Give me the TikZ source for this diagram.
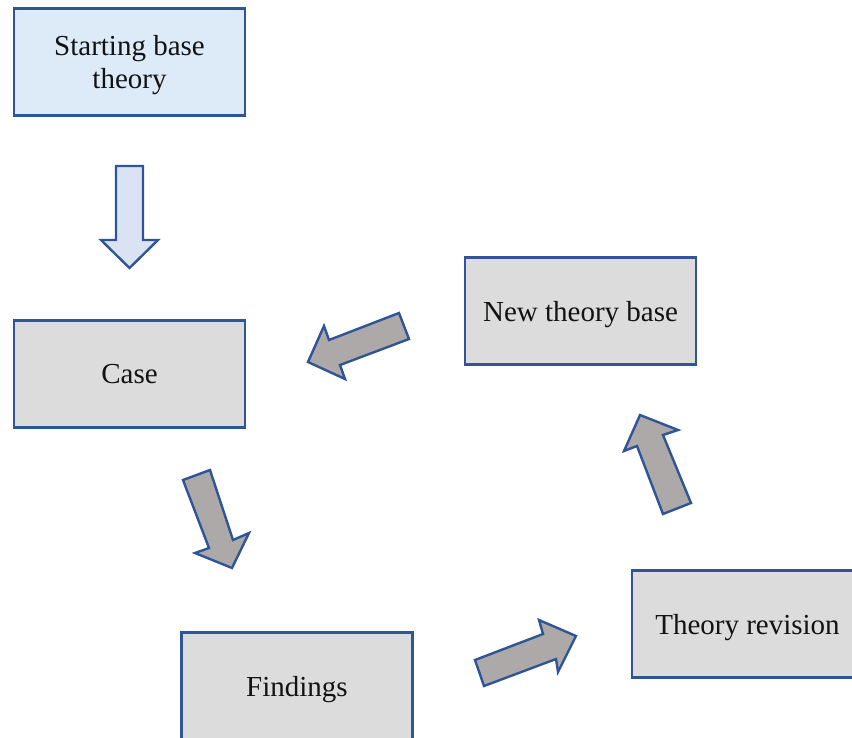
\documentclass[tikz,border=0pt]{standalone}
\usepackage{fontspec}
\setmainfont{Liberation Serif}
\begin{document}
\begin{tikzpicture}[x=1pt,y=-1pt,
  stage/.style={draw=boxblue,line width=2.4pt,fill=boxgray,minimum width=231pt,
    minimum height=107pt,inner sep=0pt,align=center,text=black!93,
    font=\fontsize{29}{33}\selectfont,text depth=0pt},
  startstage/.style={stage,fill=startblue},
  blockarrow/.style={draw=boxblue,line width=2.4pt,fill=arrowgray,line join=miter},
  downarrow/.style={draw=boxblue,line width=2.4pt,fill=downblue,line join=miter}]
\definecolor{boxblue}{HTML}{2F5597}
\definecolor{boxgray}{HTML}{DCDCDC}
\definecolor{startblue}{HTML}{DDEBF9}
\definecolor{arrowgray}{HTML}{ADA9A9}
\definecolor{downblue}{HTML}{DAE3F3}
\useasboundingbox (0,0) rectangle (852,737);
\clip (0,0) rectangle (852,737);

% process stages
\node[startstage] (start) at (129.5,62) {Starting base\\theory};
\node[stage] (case) at (129.5,374) {Case};
\node[stage] (findings) at (297,686) {Findings};
\node[stage] (revision) at (747.5,624) {Theory revision};
\node[stage] (newbase) at (580.5,311) {New theory base};

% downward arrow from the starting theory into the case
\draw[downarrow] (116,166) -- (143,166) -- (143,240) -- (158,240) -- (129.5,268)
  -- (101,240) -- (116,240) -- cycle;

% case -> findings
\draw[blockarrow] (183,480) -- (210,470) -- (233,540) -- (249,533) -- (232,568)
  -- (195,553) -- (209,548) -- cycle;

% findings -> theory revision
\draw[blockarrow] (475,660) -- (484,686) -- (556,659) -- (558,672) -- (576,636)
  -- (539,620) -- (543,634) -- cycle;

% theory revision -> new theory base
\draw[blockarrow] (663,514) -- (691,503) -- (663,435) -- (678,430) -- (640,415)
  -- (624,451) -- (637,446) -- cycle;

% new theory base -> case
\draw[blockarrow] (399,313) -- (409,339) -- (340,365) -- (345,379) -- (308,362)
  -- (324,326) -- (329,340) -- cycle;
\end{tikzpicture}
\end{document}
